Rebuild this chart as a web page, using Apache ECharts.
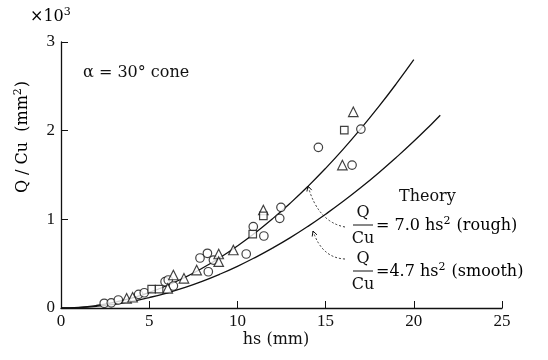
<!DOCTYPE html>
<html><head><meta charset="utf-8">
<script src="https://cdn.jsdelivr.net/npm/echarts@6/dist/echarts.min.js"></script>
<style>html,body{margin:0;padding:0;background:#fff}#c{width:548px;height:360px}</style>
</head><body><div id="c"></div>
<script>
// Data (hs in mm, Q/Cu in mm^2)
const circles = [[2.45,53],[2.85,58],[3.25,90],[4.4,154],[4.72,172],[5.9,297],[6.08,316],[6.37,248],[7.88,564],[8.3,617],[8.64,541],[8.35,409],[10.5,609],[10.9,917],[11.5,812],[12.47,1135],[12.4,1011],[14.59,1812],[17.0,2018],[16.5,1612]];
const triangles = [[3.72,109],[4.06,121],[6.37,372],[6.05,222],[6.97,335],[7.69,428],[8.94,609],[8.94,522],[9.77,654],[11.47,1105],[16.57,2213],[15.95,1612]];
const squares = [[5.14,214],[5.56,214],[10.87,834],[11.47,1040],[16.06,2007]];
// Theory curves
const roughHs = [0,1,2,3,4,5,6,7,8,9,10,11,12,13,14,15,16,17,18,19,20];
const roughQ  = [0,7,28,63,112,175,252,343,448,567,700,847,1008,1183,1372,1575,1792,2023,2268,2527,2800];
const smoothHs = [0,1,2,3,4,5,6,7,8,9,10,11,12,13,14,15,16,17,18,19,20,21,21.5];
const smoothQ  = [0,5,19,42,75,118,169,230,301,381,470,569,677,794,921,1058,1203,1358,1523,1697,1880,2073,2173];
const xTicks = [0,5,10,15,20,25];
const yTickLabels = ['0','1','2','3'];

const F = 'DejaVu Serif';
const FT = 'Liberation Serif';
const zip = (a,b)=>a.map((v,i)=>[v,b[i]]);
const chart = echarts.init(document.getElementById('c'));
const mk = (name,sym,size,data)=>({name,type:'scatter',symbol:sym,symbolSize:size,data,
  itemStyle:{color:'#fff',borderColor:'#111',borderWidth:1.2},z:5});
const rich = {n:{fontFamily:F,fontSize:16,color:'#111',lineHeight:20},
              s:{fontFamily:F,fontSize:11,color:'#111',verticalAlign:'top',lineHeight:20,padding:[0,1,8,0]}};
chart.setOption({
  animation:false,
  backgroundColor:'#fff',
  grid:{left:61,right:46,top:42,bottom:52},
  xAxis:{type:'value',min:0,max:25,interval:5,
    axisLine:{lineStyle:{color:'#111',width:1.3}},
    axisTick:{inside:true,length:7,lineStyle:{color:'#111'}},
    axisLabel:{fontFamily:FT,fontSize:17,color:'#111',margin:5,formatter:v=>String(v)},
    splitLine:{show:false}},
  yAxis:{type:'value',min:0,max:3000,interval:1000,
    axisLine:{show:true,lineStyle:{color:'#111',width:1.3}},
    axisTick:{show:true,inside:true,length:7,lineStyle:{color:'#111'}},
    axisLabel:{fontFamily:FT,fontSize:17,color:'#111',margin:6,
      formatter:v=>yTickLabels[v/1000]},
    splitLine:{show:false}},
  series:[
    {type:'line',data:zip(roughHs,roughQ),smooth:true,showSymbol:false,lineStyle:{color:'#111',width:1.3},z:3},
    {type:'line',data:zip(smoothHs,smoothQ),smooth:true,showSymbol:false,lineStyle:{color:'#111',width:1.3},z:3},
    mk('c','circle',8.5,circles),
    mk('t','triangle',9.5,triangles),
    mk('s','rect',7.5,squares)
  ],
  graphic:[
    {type:'text',x:30,y:17,style:{text:'{n|×10}{s|3}',rich:rich,verticalAlign:'middle'}},
    {type:'text',x:276,y:340,style:{text:'hs (mm)',font:'16px '+F,fill:'#111',align:'center',verticalAlign:'middle'}},
    {type:'text',x:23,y:137,rotation:Math.PI/2,style:{text:'{n|Q / Cu  (mm}{s|2}{n|)}',rich:rich,align:'center',verticalAlign:'middle'}},
    {type:'text',x:83,y:73,style:{text:'α = 30° cone',font:'16px '+F,fill:'#111',verticalAlign:'middle'}},
    {type:'text',x:399,y:197,style:{text:'Theory',font:'16px '+F,fill:'#111',verticalAlign:'middle'}},
    {type:'text',x:363,y:213,style:{text:'Q',font:'16px '+F,fill:'#111',align:'center',verticalAlign:'middle'}},
    {type:'line',shape:{x1:353,y1:225,x2:373,y2:225},style:{stroke:'#111',lineWidth:1}},
    {type:'text',x:363,y:239,style:{text:'Cu',font:'16px '+F,fill:'#111',align:'center',verticalAlign:'middle'}},
    {type:'text',x:376,y:226,style:{text:'{n|= 7.0 hs}{s|2}{n| (rough)}',rich:rich,verticalAlign:'middle'}},
    {type:'text',x:363,y:259,style:{text:'Q',font:'16px '+F,fill:'#111',align:'center',verticalAlign:'middle'}},
    {type:'line',shape:{x1:353,y1:271,x2:373,y2:271},style:{stroke:'#111',lineWidth:1}},
    {type:'text',x:363,y:285,style:{text:'Cu',font:'16px '+F,fill:'#111',align:'center',verticalAlign:'middle'}},
    {type:'text',x:376,y:272,style:{text:'{n|=4.7 hs}{s|2}{n| (smooth)}',rich:rich,verticalAlign:'middle'}},
    {type:'bezierCurve',shape:{x1:345,y1:227,x2:308,y2:186,cpx1:318,cpy1:222},style:{stroke:'#333',lineWidth:1,lineDash:[2,2],fill:null}},
    {type:'polyline',shape:{points:[[311.7,190.1],[308,186],[306.9,191.5]]},style:{stroke:'#111',lineWidth:1,fill:null}},
    {type:'bezierCurve',shape:{x1:345,y1:259,x2:313,y2:231,cpx1:322,cpy1:258},style:{stroke:'#333',lineWidth:1,lineDash:[2,2],fill:null}},
    {type:'polyline',shape:{points:[[317,234.9],[313,231],[312.2,236.5]]},style:{stroke:'#111',lineWidth:1,fill:null}}
  ]
});
</script></body></html>
